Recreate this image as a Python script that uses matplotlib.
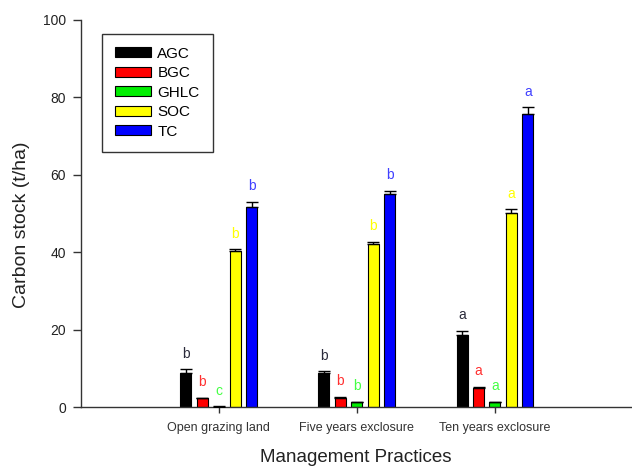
import numpy as np
import matplotlib.pyplot as plt

plt.rcParams['font.family'] = ['Liberation Sans', 'DejaVu Sans']

practices = ['Open grazing land', 'Five years exclosure', 'Ten years exclosure']
components = ['AGC', 'BGC', 'GHLC', 'SOC', 'TC']
colors = ['#000000', '#ff0000', '#00ee00', '#ffff00', '#0000ff']
letter_colors = ['#2b2b3b', '#ff3030', '#44ff44', '#ffff00', '#4040ff']

# mean values (t/ha) per component, in practice order
agc = [8.7, 8.7, 18.6]
bgc = [2.2, 2.4, 5.0]
ghlc = [0.1, 1.2, 1.2]
soc = [40.3, 42.1, 50.2]
tc = [51.8, 55.0, 75.6]

# standard errors
agc_se = [1.1, 0.5, 1.1]
bgc_se = [0.2, 0.2, 0.2]
ghlc_se = [0.1, 0.2, 0.2]
soc_se = [0.5, 0.6, 0.9]
tc_se = [1.3, 0.9, 1.8]

# significance letters
agc_let = ['b', 'b', 'a']
bgc_let = ['b', 'b', 'a']
ghlc_let = ['c', 'b', 'a']
soc_let = ['b', 'b', 'a']
tc_let = ['b', 'b', 'a']

values = [agc, bgc, ghlc, soc, tc]
errors = [agc_se, bgc_se, ghlc_se, soc_se, tc_se]
letters = [agc_let, bgc_let, ghlc_let, soc_let, tc_let]

fig = plt.figure(figsize=(6.32, 4.66), dpi=100)
ax = fig.add_axes([0.1275, 0.1266, 0.872, 0.8305])

x = np.arange(1, len(practices) + 1)
width = 0.08
step = 0.119

for i in range(len(components)):
    pos = x + (i - 2) * step
    ax.bar(pos, values[i], width, color=colors[i], edgecolor='black',
           linewidth=0.8, label=components[i], zorder=2)
    ax.errorbar(pos, values[i], yerr=[np.zeros(3), errors[i]], fmt='none',
                ecolor='black', elinewidth=1, capsize=4.3, capthick=1, zorder=3)
    for j in range(3):
        ax.text(pos[j], values[i][j] + errors[i][j] + 2.2, letters[i][j],
                ha='center', va='bottom', fontsize=10, color=letter_colors[i])

ax.set_xlim(0, 3.99)
ax.set_ylim(0, 100)
ax.set_yticks([0, 20, 40, 60, 80, 100])
ax.set_xticks(x)
ax.set_xticklabels(practices, fontsize=9, color='#222222')
ax.tick_params(axis='y', labelsize=10, colors='#333333', labelcolor='#222222',
               direction='out', length=5.5, width=1, pad=5)
ax.tick_params(axis='x', colors='#333333', direction='out', length=4.5, width=1, pad=6)
ax.spines['top'].set_visible(False)
ax.spines['right'].set_visible(False)
for s in ['left', 'bottom']:
    ax.spines[s].set_color('#333333')
    ax.spines[s].set_linewidth(1)

ax.set_ylabel('Carbon stock (t/ha)', fontsize=14, color='#222222')
ax.yaxis.set_label_coords(-0.091, 0.47)
ax.set_xlabel('Management Practices', fontsize=13.5, color='#222222', labelpad=11)

leg = ax.legend(loc='upper left', bbox_to_anchor=(0.162, 0.928),
                bbox_transform=fig.transFigure, fontsize=11, frameon=True,
                fancybox=False, edgecolor='black', handlelength=2.35,
                handleheight=0.65, labelspacing=0.36, borderpad=0.85,
                handletextpad=0.4, borderaxespad=0)
leg.get_frame().set_linewidth(1)

fig.savefig('out.png', dpi=100)
